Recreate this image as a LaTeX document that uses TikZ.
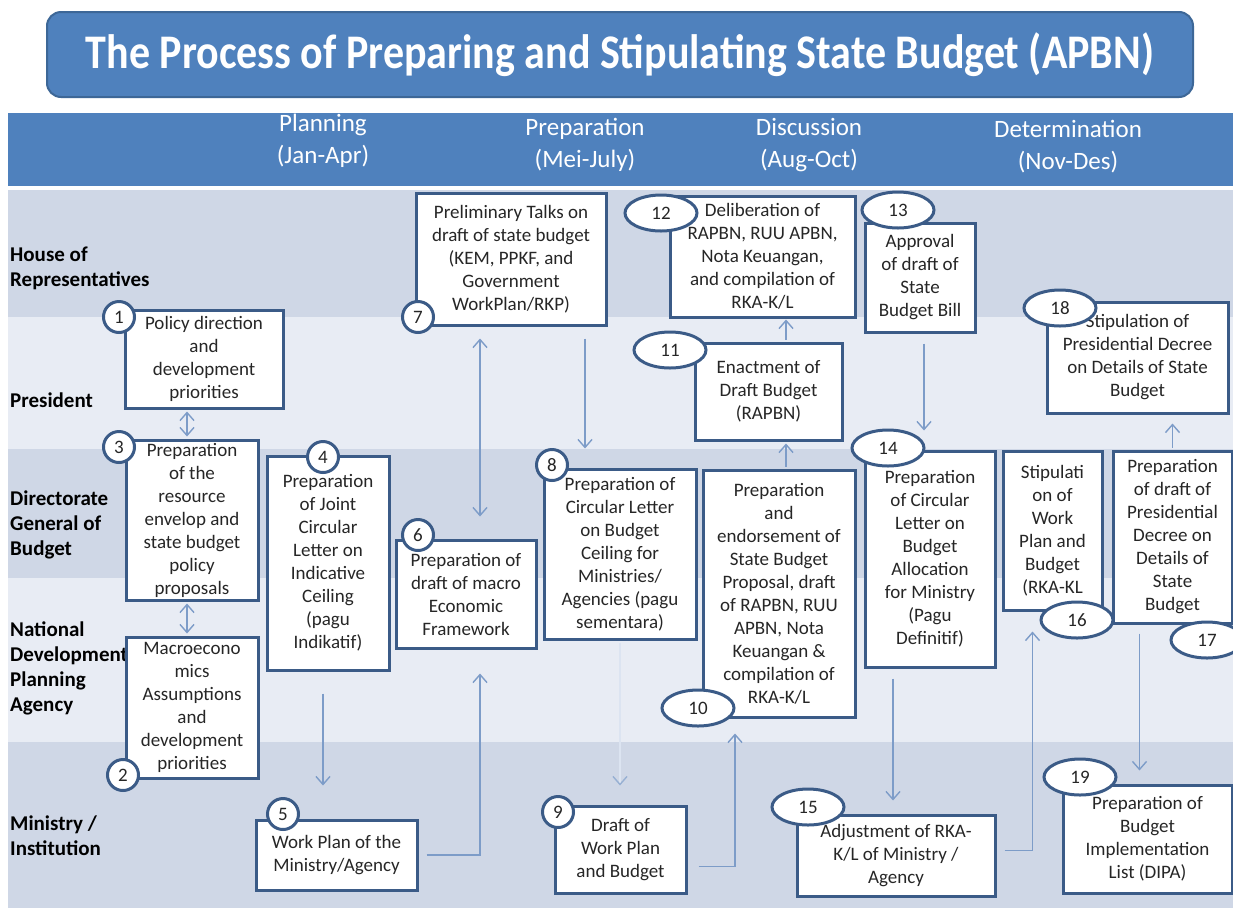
\documentclass[tikz,border=0pt]{standalone}
\usepackage{fontspec}
\usepackage{graphicx}
\setmainfont{Carlito}
\usetikzlibrary{arrows.meta,shapes.geometric}
\definecolor{titleblue}{HTML}{4F81BD}
\definecolor{titleborder}{HTML}{3D6797}
\definecolor{lanedark}{HTML}{CFD7E6}
\definecolor{lanelight}{HTML}{E8ECF4}
\definecolor{boxborder}{HTML}{3B5B87}
\definecolor{connblue}{HTML}{7D9CC8}
\definecolor{faintline}{HTML}{DCE4F1}
\definecolor{boxtext}{HTML}{262626}
\begin{document}
\begin{tikzpicture}[x=1pt,y=-1pt,
  box/.style={draw=boxborder, line width=3pt, fill=white, inner sep=0pt, align=center,
    font=\fontsize{19}{23}\selectfont, text=boxtext},
  badge/.style={draw=boxborder, line width=3pt, fill=white, inner sep=0pt,
    font=\fontsize{19}{20}\selectfont, text=boxtext},
  circ/.style={badge, circle, minimum size=31pt},
  oval/.style={badge, ellipse, minimum width=72pt, minimum height=36pt},
  conn/.style={draw=connblue, line width=1.4pt, -{Straight Barb[length=8pt,width=14pt]}},
  conntwo/.style={draw=connblue, line width=1.4pt, {Straight Barb[length=8pt,width=14pt]}-{Straight Barb[length=8pt,width=14pt]}},
  connfaint/.style={draw=faintline, line width=1.4pt, -{Straight Barb[length=8pt,width=14pt,color=connblue!80]}},
  lanelabel/.style={anchor=west, align=left, inner sep=0pt, font=\bfseries\fontsize{21}{25}\selectfont},
  phase/.style={align=center, text=white, inner sep=0pt, font=\fontsize{25}{32}\selectfont},
  titlebox/.style={draw=titleborder, line width=2pt, fill=titleblue, rounded corners=14pt,
    text=white, font=\bfseries\fontsize{42}{44}\selectfont}
]
\useasboundingbox (0,0) rectangle (1233,911);
\fill[white] (0,0) rectangle (1233,911);

% title
\node[titlebox, minimum width=1146pt, minimum height=85pt] (title) at (620,54.5)
  {\scalebox{1}[1.15]{The Process of Preparing and Stipulating State Budget (APBN)}};

% header band
\fill[titleblue] (8,113) rectangle (1233,186);
\node[phase] (ph1) at (323,141) {Planning\\(Jan-Apr)};
\node[phase] (ph2) at (585,145) {Preparation\\(Mei-July)};
\node[phase] (ph3) at (809,145) {Discussion\\(Aug-Oct)};
\node[phase] (ph4) at (1068,147) {Determination\\(Nov-Des)};

% lanes
\fill[lanedark]  (8,190) rectangle (1233,317);
\fill[lanelight] (8,317) rectangle (1233,449);
\fill[lanedark]  (8,449) rectangle (1233,578);
\fill[lanelight] (8,578) rectangle (1233,742);
\fill[lanedark]  (8,742) rectangle (1233,908);

\node[lanelabel] (l1) at (10,268) {House of\\Representatives};
\node[lanelabel] (l2) at (10,400) {President};
\node[lanelabel] (l3) at (10,525) {Directorate\\General of\\Budget};
\node[lanelabel] (l4) at (10,668) {National\\Development\\Planning\\Agency};
\node[lanelabel] (l5) at (10,836) {Ministry /\\Institution};

% boxes
\node[box, minimum width=158pt, minimum height=98pt] (b1) at (204,359)
  {Policy direction\\and\\development\\priorities};
\node[box, minimum width=132pt, minimum height=160pt] (b3) at (192,520)
  {Preparation\\of the\\resource\\envelop and\\state budget\\policy\\proposals};
\node[box, minimum width=132pt, minimum height=141pt] (b2) at (192,707.5)
  {Macroecono\\mics\\Assumptions\\and\\development\\priorities};
\node[box, minimum width=122pt, minimum height=214pt] (b4) at (328,563)
  {Preparation\\of Joint\\Circular\\Letter on\\Indicative\\Ceiling\\(pagu\\Indikatif)};
\node[box, minimum width=161pt, minimum height=70pt] (b5) at (336.5,855)
  {Work Plan of the\\Ministry/Agency};
\node[box, minimum width=140pt, minimum height=108pt] (b6) at (466,594)
  {Preparation of\\draft of macro\\Economic\\Framework};
\node[box, minimum width=190pt, minimum height=132pt] (b7) at (511,259)
  {Preliminary Talks on\\draft of state budget\\(KEM, PPKF, and\\Government\\WorkPlan/RKP)};
\node[box, minimum width=152pt, minimum height=170pt] (b8) at (620,554)
  {Preparation of\\Circular Letter\\on Budget\\Ceiling for\\Ministries/\\Agencies (pagu\\sementara)};
\node[box, minimum width=131pt, minimum height=87pt] (b9) at (620.5,849.5)
  {Draft of\\Work Plan\\and Budget};
\node[box, minimum width=152pt, minimum height=247pt] (b10) at (779,593.5)
  {Preparation\\and\\endorsement of\\State Budget\\Proposal, draft\\of RAPBN, RUU\\APBN, Nota\\Keuangan \&\\compilation of\\RKA-K/L};
\node[box, minimum width=147pt, minimum height=97pt] (b11) at (768.5,391.5)
  {Enactment of\\Draft Budget\\(RAPBN)};
\node[box, minimum width=185pt, minimum height=121pt] (b12) at (762.5,256.5)
  {Deliberation of\\RAPBN, RUU APBN,\\Nota Keuangan,\\and compilation of\\RKA-K/L};
\node[box, minimum width=110pt, minimum height=109pt] (b13) at (920,277.5)
  {Approval\\of draft of\\State\\Budget Bill};
\node[box, minimum width=130pt, minimum height=216pt] (b14) at (930,559)
  {Preparation\\of Circular\\Letter on\\Budget\\Allocation\\for Ministry\\(Pagu\\Definitif)};
\node[box, minimum width=198pt, minimum height=81pt] (b15) at (896,855.5)
  {Adjustment of RKA-\\K/L of Ministry /\\Agency};
\node[box, minimum width=99pt, minimum height=159pt] (b16) at (1052.5,530.5)
  {Stipulati\\on of\\Work\\Plan and\\Budget\\(RKA-KL};
\node[box, minimum width=119pt, minimum height=172pt] (b17) at (1172.5,537)
  {Preparation\\of draft of\\Presidential\\Decree on\\Details of\\State\\Budget};
\node[box, minimum width=181pt, minimum height=111pt] (b18) at (1137.5,357.5)
  {Stipulation of\\Presidential Decree\\on Details of State\\Budget};
\node[box, minimum width=169pt, minimum height=108pt] (b19) at (1147.5,839)
  {Preparation of\\Budget\\Implementation\\List (DIPA)};

% connectors
\draw[conntwo, shorten <=2pt, shorten >=2pt] ([xshift=-5pt]b3.north) -- ([xshift=-5pt]b3.north |- b1.south);
\draw[conntwo, shorten <=2pt, shorten >=2pt] ([xshift=-5pt]b3.south) -- ([xshift=-5pt]b3.south |- b2.north);
\draw[conn, shorten <=22pt, shorten >=33pt] ([xshift=-5pt]b4.south) -- ([xshift=-5pt]b4.south |- b5.north);
\draw[conn, shorten <=8pt, shorten >=24pt] (b5.east) -| ([xshift=14pt]b6.south);
\draw[conntwo, shorten <=22pt, shorten >=12pt] ([xshift=14pt]b6.north) -- ([xshift=14pt]b6.north |- b7.south);
\draw[conn, shorten <=12pt, shorten >=19pt] ([xshift=74pt]b7.south) -- ([xshift=74pt]b7.south |- b8.north);
\draw[connfaint, shorten <=2pt, shorten >=19pt] (b8.south) -- (b8.south |- b9.north);
\draw[conn, shorten <=11pt, shorten >=15pt] ([yshift=-17pt]b9.east) -| ([xshift=-44pt]b10.south);
\draw[conn, shorten <=2pt, shorten >=2pt] ([xshift=7pt]b10.north) -- ([xshift=7pt]b10.north |- b11.south);
\draw[conn, shorten <=2pt, shorten >=1pt] ([xshift=7pt]b10.north |- b11.north) -- ([xshift=7pt]b10.north |- b12.south);
\draw[conn, shorten <=10pt, shorten >=19pt] ([xshift=4pt]b13.south) -- ([xshift=4pt]b13.south |- b14.north);
\draw[conn, shorten <=10pt, shorten >=13pt] ([xshift=-37pt]b14.south) -- ([xshift=-37pt]b14.south |- b15.north);
\draw[conn, shorten <=8pt, shorten >=20pt] ([yshift=5pt]b15.east) -| ([xshift=-20pt]b16.south);
\draw[conn, shorten <=2pt, shorten >=9pt] (b17.north) -- (b17.north |- b18.south);
\draw[conn, shorten <=9pt, shorten >=13pt] ([xshift=-33pt]b17.south) -- ([xshift=-33pt]b17.south |- b19.north);

% badges
\node[circ] (c1) at (119,317) {1};
\node[circ] (c2) at (123,775) {2};
\node[circ] (c3) at (119,447) {3};
\node[circ] (c4) at (323,457) {4};
\node[circ] (c5) at (283,814) {5};
\node[circ] (c6) at (418,535) {6};
\node[circ] (c7) at (418,317) {7};
\node[circ] (c8) at (552,465) {8};
\node[circ] (c9) at (558,812) {9};
\node[oval] (e10) at (698,708) {10};
\node[oval] (e11) at (670,350) {11};
\node[oval] (e12) at (661,213) {12};
\node[oval] (e13) at (898,210) {13};
\node[oval] (e14) at (888,448) {14};
\node[oval] (e15) at (808,807) {15};
\node[oval] (e16) at (1077,620) {16};
\node[oval] (e17) at (1207,640) {17};
\node[oval] (e18) at (1060,308) {18};
\node[oval] (e19) at (1080,777) {19};
\end{tikzpicture}
\end{document}
